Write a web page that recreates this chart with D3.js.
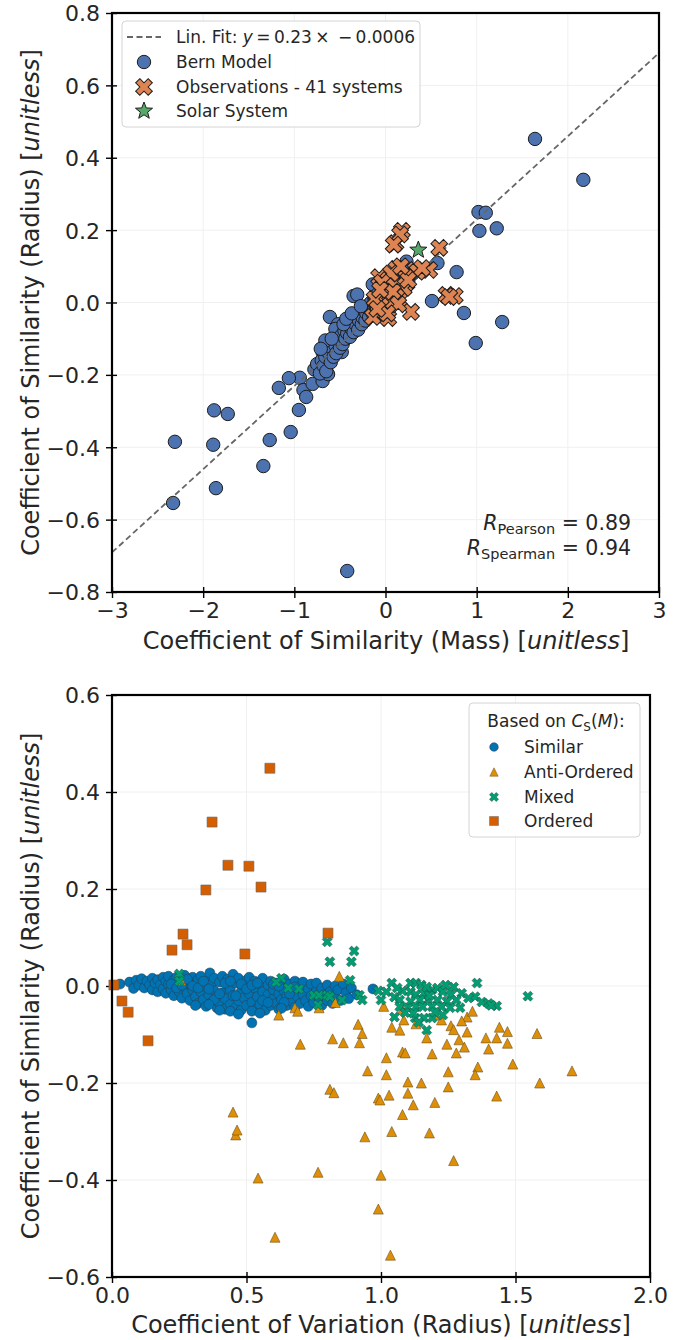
<!DOCTYPE html>
<html><head><meta charset="utf-8">
<script src="https://cdn.jsdelivr.net/npm/d3@7"></script>
<style>
body{margin:0;background:#fff;}
svg text{font-family:"DejaVu Sans",sans-serif;fill:#262626;}
</style></head><body>
<svg id="chart" width="684" height="1340"></svg>
<script>
// ---------- Panel 1: similarity in mass vs similarity in radius ----------
const bernModel = [
  [1.64,0.452],[2.17,0.339],[1.02,0.250],[1.10,0.248],[1.03,0.198],[1.22,0.205],[0.78,0.084],[0.57,0.109],
  [0.51,0.004],[0.86,-0.029],[1.28,-0.054],[0.99,-0.112],[0.23,0.113],[-0.35,0.018],[-0.31,0.022],[-0.14,0.050],
  [-0.61,-0.040],[-0.52,-0.060],[-0.55,-0.073],[-0.64,-0.115],[-0.69,-0.137],[-0.49,-0.109],[-0.48,-0.137],
  [-0.94,-0.208],[-1.06,-0.209],[-1.17,-0.236],[-0.90,-0.242],[-0.87,-0.261],[-0.80,-0.225],[-0.69,-0.217],
  [-0.63,-0.198],[-0.95,-0.297],[-1.04,-0.358],[-1.27,-0.380],[-1.34,-0.452],[-1.73,-0.308],[-1.88,-0.298],
  [-1.89,-0.393],[-2.31,-0.385],[-1.86,-0.513],[-2.33,-0.554],[-0.42,-0.742],
  [-0.78,-0.185],[-0.75,-0.170],[-0.72,-0.196],[-0.70,-0.160],[-0.68,-0.175],[-0.66,-0.150],[-0.65,-0.190],
  [-0.62,-0.140],[-0.60,-0.165],[-0.58,-0.128],[-0.57,-0.150],[-0.55,-0.118],[-0.54,-0.140],[-0.52,-0.100],
  [-0.50,-0.125],[-0.48,-0.090],[-0.47,-0.115],[-0.45,-0.078],[-0.44,-0.100],[-0.42,-0.085],[-0.40,-0.062],
  [-0.39,-0.095],[-0.38,-0.070],[-0.36,-0.050],[-0.35,-0.082],[-0.33,-0.060],[-0.32,-0.040],[-0.30,-0.075],
  [-0.29,-0.050],[-0.28,-0.030],[-0.26,-0.060],[-0.25,-0.042],[-0.24,-0.020],[-0.22,-0.050],[-0.21,-0.030],
  [-0.20,-0.010],[-0.18,-0.040],[-0.17,-0.020],[-0.16,0.000],[-0.14,-0.030],[-0.13,-0.010],[-0.12,0.010],
  [-0.10,-0.020],[-0.09,0.000],[-0.08,0.025],[-0.06,-0.010],[-0.05,0.012],[-0.04,0.035],[-0.02,0.000],
  [-0.01,0.020],[0.00,0.045],[0.02,0.010],[0.03,0.030],[0.05,0.055],[0.07,0.020],[0.09,0.040],[0.11,0.065],
  [0.13,0.030],[0.15,0.050],[0.18,0.075],[0.20,0.045],[0.25,0.060],[0.30,0.080],[-0.66,-0.105],[-0.71,-0.128],
  [-0.59,-0.100],[-0.46,-0.060],[-0.43,-0.045],[-0.37,-0.030],[-0.27,-0.010]
];
const observations = [
  [0.18,0.198],[0.11,0.164],[0.59,0.151],[0.12,0.093],[0.33,0.090],[0.48,0.090],[-0.07,0.070],[0.23,0.054],
  [0.03,0.062],[0.67,0.021],[0.76,0.018],[0.00,0.029],[-0.10,0.001],[0.15,0.007],[0.01,-0.016],[-0.08,-0.029],
  [0.28,-0.026],[0.03,-0.043],[-0.14,-0.040],[0.16,0.188],[0.09,0.160],[0.35,0.085],[0.06,0.080],[-0.04,0.055],
  [0.20,0.040],[0.10,0.045],[-0.02,0.020],[0.12,0.015],[0.05,0.000],[-0.05,-0.010],[0.22,0.070],[0.40,0.095],
  [0.08,0.030],[-0.12,0.010],[0.14,-0.005],[-0.06,0.035],[0.02,-0.030],[0.25,0.062],[0.70,0.015],[-0.09,-0.018],
  [0.17,0.100]
];
const solarSystem = [[0.36,0.145]];
const fitSlope = 0.23, fitIntercept = -0.0006;
const topXTicks = [-3,-2,-1,0,1,2,3];
const topYTicks = [-0.8,-0.6,-0.4,-0.2,0,0.2,0.4,0.6,0.8];
const rPearson = 0.89, rSpearman = 0.94;

// ---------- Panel 2: coefficient of variation vs similarity in radius ----------
const similar = [
  [0.03,0.004],[0.065,0.008],[0.08,-0.005],[0.09,0.012],[0.10,0.002],
  [0.11,0.015],[0.12,-0.004],[0.13,0.010],[0.14,0.002],[0.15,0.016],[0.15,-0.008],[0.16,0.006],[0.17,0.013],
  [0.17,-0.012],[0.18,0.003],[0.19,0.018],[0.19,-0.006],[0.20,0.010],
  [0.20,-0.015],[0.21,0.004],[0.21,0.020],[0.22,-0.008],[0.23,0.012],[0.23,-0.020],[0.24,0.002],[0.24,0.018],
  [0.25,-0.012],[0.25,0.008],[0.26,-0.025],[0.26,0.015],[0.27,-0.003],[0.27,0.022],[0.28,-0.016],[0.28,0.006],
  [0.29,-0.030],[0.29,0.012],[0.30,-0.008],[0.30,0.018],
  [0.31,-0.022],[0.31,0.004],[0.32,-0.036],[0.32,0.014],[0.33,-0.012],[0.33,0.020],[0.34,-0.028],[0.34,0.000],
  [0.35,-0.042],[0.35,0.010],[0.36,-0.018],[0.364,0.027],[0.37,-0.034],[0.37,0.004],[0.38,-0.010],[0.38,0.016],
  [0.39,-0.045],[0.39,-0.022],[0.40,0.008],[0.40,-0.036],
  [0.41,-0.014],[0.41,0.020],[0.42,-0.048],[0.42,-0.026],[0.43,0.002],[0.43,0.014],[0.44,-0.038],[0.44,-0.008],
  [0.45,0.024],[0.45,-0.020],[0.46,-0.044],[0.46,0.006],[0.47,-0.030],[0.47,0.016],[0.48,-0.012],[0.48,-0.050],
  [0.49,0.000],[0.49,-0.024],[0.50,0.012],[0.50,-0.040],
  [0.51,-0.016],[0.51,0.018],[0.52,-0.076],[0.52,-0.034],[0.53,-0.004],[0.53,0.010],[0.54,-0.046],[0.54,-0.022],
  [0.55,0.004],[0.55,-0.038],[0.56,0.016],[0.56,-0.012],[0.57,-0.028],[0.57,-0.050],[0.58,0.002],[0.58,-0.018],
  [0.59,-0.040],[0.59,0.010],[0.60,-0.026],[0.60,-0.008],
  [0.61,0.006],[0.61,-0.036],[0.62,-0.016],[0.62,-0.048],[0.63,0.000],[0.63,-0.028],[0.64,-0.010],[0.64,0.014],
  [0.65,-0.040],[0.65,-0.020],[0.66,0.004],[0.67,-0.032],[0.67,-0.012],[0.68,0.010],[0.68,-0.044],[0.69,-0.022],
  [0.70,-0.004],[0.70,-0.036],
  [0.71,0.008],[0.71,-0.018],[0.72,-0.030],[0.73,-0.006],[0.73,-0.042],[0.74,0.004],[0.74,-0.020],[0.75,-0.034],
  [0.76,-0.010],[0.76,0.006],[0.77,-0.026],[0.78,-0.040],[0.78,-0.004],[0.79,-0.018],[0.80,0.002],[0.80,-0.030],
  [0.81,-0.012],[0.82,-0.036],[0.83,0.000],[0.83,-0.022],[0.84,-0.008],[0.85,-0.030],[0.86,0.004],[0.87,-0.014],
  [0.88,-0.026],[0.89,-0.004],[0.91,-0.018],[0.97,-0.006],
  [0.22,0.004],[0.24,-0.004],[0.26,0.002],[0.28,0.014],[0.30,0.000],[0.32,-0.004],[0.34,0.010],[0.36,-0.006],
  [0.38,-0.028],[0.40,-0.016],[0.42,0.006],[0.44,0.010],[0.46,-0.020],[0.48,0.004],[0.50,-0.006],[0.52,0.002],
  [0.54,0.006],[0.56,-0.030],[0.58,-0.034],[0.60,0.004],[0.62,0.000],[0.64,-0.034],[0.66,-0.016],[0.68,-0.002],
  [0.36,-0.038],[0.44,-0.052],[0.52,-0.052],[0.40,-0.050],[0.31,-0.040],[0.47,-0.058],[0.55,-0.056],[0.63,-0.046]
];
const antiOrdered = [
  [0.256,0.012],[0.845,0.020],[0.68,-0.045],[0.77,-0.045],[0.83,-0.034],[0.915,-0.079],[0.93,-0.098],[0.92,-0.117],
  [0.82,-0.109],[0.86,-0.117],[0.70,-0.120],[1.04,-0.085],[1.07,-0.091],[1.08,-0.048],[1.085,-0.070],[1.02,-0.148],
  [1.08,-0.136],[1.09,-0.138],[0.95,-0.175],[1.02,-0.183],[1.10,-0.198],[1.15,-0.200],[1.19,-0.140],[1.17,-0.107],
  [1.13,-0.078],[1.25,-0.177],[1.25,-0.208],[1.28,-0.138],[1.26,-0.082],[1.27,-0.090],[1.32,-0.095],[1.29,-0.111],
  [1.31,-0.126],[1.32,-0.064],[1.34,-0.052],[1.39,-0.107],[1.40,-0.130],[1.43,-0.107],[1.44,-0.085],[1.47,-0.094],
  [1.47,-0.118],[1.49,-0.161],[1.58,-0.098],[1.71,-0.175],[1.59,-0.200],[1.36,-0.167],[1.35,-0.183],[1.43,-0.227],
  [1.10,-0.221],[1.03,-0.225],[0.81,-0.213],[0.825,-0.220],[0.99,-0.231],[0.996,-0.235],[1.04,-0.300],[0.94,-0.311],
  [1.18,-0.303],[0.46,-0.307],[0.465,-0.297],[0.45,-0.260],[0.766,-0.384],[0.543,-0.396],[1.00,-0.390],[1.27,-0.360],
  [0.99,-0.460],[0.606,-0.518],[1.035,-0.555],[0.69,-0.052],[1.01,-0.042],[1.20,-0.060],[1.225,-0.070],[1.245,-0.120],
  [1.30,-0.072],[0.62,-0.060],[1.20,-0.240],[1.12,-0.245],[1.08,-0.265]
];
const mixed = [
  [0.25,0.025],[0.25,0.010],[0.63,0.016],[0.655,-0.004],[0.695,-0.006],[0.75,-0.019],[0.77,-0.019],[0.80,-0.019],
  [0.766,-0.039],[0.855,-0.029],[0.92,-0.019],[0.93,-0.029],[0.80,0.091],[0.81,0.050],[0.89,0.050],[0.90,0.072],
  [0.885,0.012],[0.81,-0.022],[0.61,0.008],
  [0.99,-0.010],[1.00,-0.029],[1.04,0.006],[1.02,-0.012],[1.05,-0.023],[1.07,-0.029],[1.08,-0.010],[1.11,0.006],
  [1.13,0.006],[1.15,0.002],[1.11,-0.012],[1.13,-0.018],[1.16,-0.015],[1.19,-0.008],[1.21,-0.004],[1.23,-0.012],
  [1.27,-0.002],[1.30,-0.015],[1.26,-0.018],[1.28,-0.029],[1.245,-0.032],[1.21,-0.029],[1.175,-0.029],[1.145,-0.029],
  [1.11,-0.032],[1.07,-0.043],[1.10,-0.045],[1.13,-0.043],[1.155,-0.043],[1.19,-0.043],[1.225,-0.043],[1.257,-0.045],
  [1.294,-0.045],[1.05,-0.064],[1.127,-0.066],[1.16,-0.066],[1.19,-0.066],[1.12,-0.056],[1.17,-0.091],[1.35,-0.022],
  [1.357,0.006],[1.375,-0.033],[1.40,-0.036],[1.43,-0.041],[1.41,-0.040],[1.546,-0.021],[1.325,-0.025],
  [1.09,-0.055],[1.14,-0.075],[1.20,-0.054],[1.23,-0.060],[1.06,-0.004],[1.17,-0.002],[1.24,0.002],[1.18,-0.020]
];
const ordered = [
  [0.587,0.449],[0.372,0.338],[0.431,0.249],[0.509,0.247],[0.349,0.198],[0.554,0.204],[0.264,0.107],[0.279,0.085],
  [0.223,0.074],[0.494,0.066],[0.803,0.109],[0.007,0.002],[0.037,-0.031],[0.060,-0.054],[0.134,-0.113]
];
const botXTicks = [0,0.5,1,1.5,2];
const botYTicks = [-0.6,-0.4,-0.2,0,0.2,0.4,0.6];

const svg = d3.select("#chart");
const TICK_FONT = 22, TITLE_FONT = 24;

function italicTail(sel, before, it, after) {
  sel.append("tspan").text(before);
  sel.append("tspan").attr("font-style","italic").text(it);
  sel.append("tspan").text(after);
}

function makePanel(cfg) {
  const g = svg.append("g");
  const x = d3.scaleLinear().domain(cfg.xDomain).range([cfg.left, cfg.right]);
  const y = d3.scaleLinear().domain(cfg.yDomain).range([cfg.bottom, cfg.top]);

  // faint grid
  const grid = g.append("g").attr("stroke","#f0f0f0").attr("stroke-width",1);
  grid.selectAll("line.gx").data(cfg.xTicks).join("line").attr("class","gx")
    .attr("x1",d=>x(d)).attr("x2",d=>x(d)).attr("y1",cfg.top).attr("y2",cfg.bottom);
  grid.selectAll("line.gy").data(cfg.yTicks).join("line").attr("class","gy")
    .attr("y1",d=>y(d)).attr("y2",d=>y(d)).attr("x1",cfg.left).attr("x2",cfg.right);

  // axes with in-out ticks
  const xa = g.append("g").attr("transform",`translate(0,${cfg.bottom})`)
    .call(d3.axisBottom(x).tickValues(cfg.xTicks).tickFormat(cfg.xFmt).tickSize(6).tickPadding(4));
  xa.select(".domain").remove();
  xa.selectAll(".tick line").attr("y1",-5).attr("y2",6).attr("stroke","#000").attr("stroke-width",1.4);
  xa.selectAll(".tick text").attr("font-size",TICK_FONT);

  const ya = g.append("g").attr("transform",`translate(${cfg.left},0)`)
    .call(d3.axisLeft(y).tickValues(cfg.yTicks).tickFormat(cfg.yFmt).tickSize(6).tickPadding(6));
  ya.select(".domain").remove();
  ya.selectAll(".tick line").attr("x1",5).attr("x2",-6).attr("stroke","#000").attr("stroke-width",1.4);
  ya.selectAll(".tick text").attr("font-size",TICK_FONT).attr("dy","0.36em");

  // axis titles
  const xt = g.append("text").attr("x",cfg.xTitleX).attr("y",cfg.xTitleY)
    .attr("text-anchor","middle").attr("font-size",TITLE_FONT);
  italicTail(xt, cfg.xTitle, "unitless", "]");
  const yt = g.append("text").attr("transform",`translate(${cfg.yTitleX},${(cfg.top+cfg.bottom)/2}) rotate(-90)`)
    .attr("text-anchor","middle").attr("font-size",TITLE_FONT);
  italicTail(yt, cfg.yTitle, "unitless", "]");

  const data = g.append("g");
  const spine = () => g.append("rect").attr("x",cfg.left).attr("y",cfg.top)
    .attr("width",cfg.right-cfg.left).attr("height",cfg.bottom-cfg.top)
    .attr("fill","none").attr("stroke","#000").attr("stroke-width",2.2);
  return {g, x, y, data, spine};
}

const circlePath = r => d3.symbol(d3.symbolCircle, Math.PI*r*r)();
const crossPath = s => d3.symbol(d3.symbolCross, s)();
const triPath = h => `M0,${-h}L${h},${h}L${-h},${h}Z`;
const sqPath = h => `M${-h},${-h}H${h}V${h}H${-h}Z`;
const starPath = (R, r) => {
  const pts = [];
  for (let i = 0; i < 10; i++) {
    const a = -Math.PI/2 + i*Math.PI/5, rad = i % 2 ? r : R;
    pts.push([rad*Math.cos(a), rad*Math.sin(a)]);
  }
  return "M" + pts.map(p => p.join(",")).join("L") + "Z";
};

function drawMarks(layer, data, x, y, path, fill, stroke, sw, rotate) {
  layer.append("g").selectAll("path").data(data).join("path")
    .attr("d", path)
    .attr("transform", d => `translate(${x(d[0])},${y(d[1])})` + (rotate ? ` rotate(${rotate})` : ""))
    .attr("fill", fill).attr("stroke", stroke).attr("stroke-width", sw);
}

// ---------- Panel 1 ----------
const p1 = makePanel({
  left:112, right:659, top:13, bottom:592,
  xDomain:[-3,3], yDomain:[-0.8,0.8], xTicks:topXTicks, yTicks:topYTicks,
  xFmt:d3.format("d"), yFmt:d3.format(".1f"),
  xTitle:"Coefficient of Similarity (Mass) [", yTitle:"Coefficient of Similarity (Radius) [",
  xTitleX:386, xTitleY:649, yTitleX:39
});
const BERN = "#4C72B0", OBS = "#DD8452", SOLAR = "#55A868";
const BERN_R = 6.7, OBS_SIZE = 175;
drawMarks(p1.data, bernModel, p1.x, p1.y, circlePath(BERN_R), BERN, "#1c1c1c", 1);
// linear fit across the full x range
const fitLine = d3.line().x(d=>p1.x(d)).y(d=>p1.y(fitSlope*d + fitIntercept));
p1.data.append("path").attr("d", fitLine(d3.extent(topXTicks)))
  .attr("fill","none").attr("stroke","#666").attr("stroke-width",1.8).attr("stroke-dasharray","6,3.5");
drawMarks(p1.data, observations, p1.x, p1.y, crossPath(OBS_SIZE), OBS, "#1c1c1c", 1, 45);
drawMarks(p1.data, solarSystem, p1.x, p1.y, starPath(9, 3.8), SOLAR, "#1c1c1c", 1);
p1.spine();

// correlation coefficients
[[rPearson,"Pearson",530],[rSpearman,"Spearman",555]].forEach(([v,name,yy]) => {
  const t = p1.g.append("text").attr("x",631).attr("y",yy).attr("text-anchor","end").attr("font-size",20.5);
  t.append("tspan").attr("font-style","italic").text("R");
  t.append("tspan").attr("font-size",14.5).attr("dy",4).text(name);
  t.append("tspan").attr("dy",-4).text(" = " + d3.format(".2f")(v));
});

// legend
const lg1 = p1.g.append("g");
lg1.append("rect").attr("x",122).attr("y",21).attr("width",298).attr("height",106).attr("rx",4)
  .attr("fill","#fff").attr("fill-opacity",0.85).attr("stroke","#d4d4d4").attr("stroke-width",1);
const rows1 = [37, 62, 87, 111];
lg1.append("line").attr("x1",127).attr("x2",161).attr("y1",rows1[0]).attr("y2",rows1[0])
  .attr("stroke","#666").attr("stroke-width",1.8).attr("stroke-dasharray","6,3.5");
lg1.append("path").attr("d",circlePath(BERN_R)).attr("transform",`translate(144,${rows1[1]})`)
  .attr("fill",BERN).attr("stroke","#1c1c1c");
lg1.append("path").attr("d",crossPath(OBS_SIZE)).attr("transform",`translate(144,${rows1[2]}) rotate(45)`)
  .attr("fill",OBS).attr("stroke","#1c1c1c");
lg1.append("path").attr("d",starPath(9,3.8)).attr("transform",`translate(144,${rows1[3]})`)
  .attr("fill",SOLAR).attr("stroke","#1c1c1c");
const fitTxt = lg1.append("text").attr("x",176).attr("y",rows1[0]+6).attr("font-size",17);
fitTxt.append("tspan").text("Lin. Fit: ");
fitTxt.append("tspan").attr("font-style","italic").text("y");
fitTxt.append("tspan").text(`\u2009=\u2009${fitSlope}\u2009×\u2002\u2212\u2009${Math.abs(fitIntercept)}`);
["Bern Model","Observations - 41 systems","Solar System"].forEach((s,i) =>
  lg1.append("text").attr("x",176).attr("y",rows1[i+1]+6).attr("font-size",17).text(s));

// ---------- Panel 2 ----------
const p2 = makePanel({
  left:112, right:650, top:695, bottom:1277,
  xDomain:[0,2], yDomain:[-0.6,0.6], xTicks:botXTicks, yTicks:botYTicks,
  xFmt:d3.format(".1f"), yFmt:d3.format(".1f"),
  xTitle:"Coefficient of Variation (Radius) [", yTitle:"Coefficient of Similarity (Radius) [",
  xTitleX:381, xTitleY:1333, yTitleX:39
});
const C_SIM = "#0173B2", C_ANTI = "#DE8F05", C_MIX = "#029E73", C_ORD = "#D55E00";
drawMarks(p2.data, similar, p2.x, p2.y, circlePath(5), C_SIM, "#2b3b4b", 0.5);
drawMarks(p2.data, antiOrdered, p2.x, p2.y, triPath(5), C_ANTI, "#6b5020", 0.6);
drawMarks(p2.data, mixed, p2.x, p2.y, crossPath(62), C_MIX, "#1f4a3c", 0.5, 45);
p2.spine();
drawMarks(p2.data, ordered, p2.x, p2.y, sqPath(5), C_ORD, "#666", 0.6);

// legend
const lg2 = p2.g.append("g");
lg2.append("rect").attr("x",469).attr("y",703).attr("width",171).attr("height",134).attr("rx",4)
  .attr("fill","#fff").attr("fill-opacity",0.85).attr("stroke","#d4d4d4").attr("stroke-width",1);
const lt = lg2.append("text").attr("x",556).attr("y",727).attr("text-anchor","middle").attr("font-size",17);
lt.append("tspan").text("Based on ");
lt.append("tspan").attr("font-style","italic").text("C");
lt.append("tspan").attr("font-size",12).attr("dy",4).text("S");
lt.append("tspan").attr("dy",-4).text("(");
lt.append("tspan").attr("font-style","italic").text("M");
lt.append("tspan").text("):");
const rows2 = [747, 772, 797, 821];
const legendMarks = [
  [circlePath(4.3), C_SIM, "#2b3b4b", 0, "Similar"],
  [triPath(4.2), C_ANTI, "#6b5020", 0, "Anti-Ordered"],
  [crossPath(50), C_MIX, "#1f4a3c", 45, "Mixed"],
  [sqPath(4.5), C_ORD, "#666", 0, "Ordered"]
];
legendMarks.forEach(([d,f,s,rot,label],i) => {
  lg2.append("path").attr("d",d).attr("transform",`translate(494,${rows2[i]}) rotate(${rot})`)
    .attr("fill",f).attr("stroke",s).attr("stroke-width",0.5);
  lg2.append("text").attr("x",524).attr("y",rows2[i]+6).attr("font-size",17).text(label);
});
</script>
</body></html>
